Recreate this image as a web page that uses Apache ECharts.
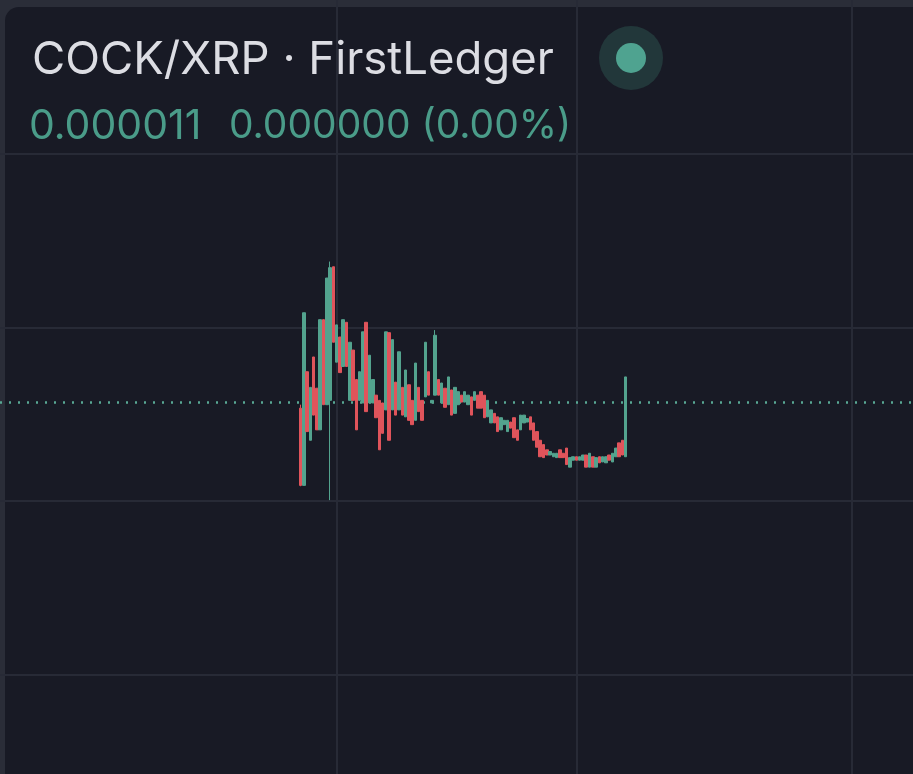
<!DOCTYPE html>
<html>
<head>
<meta charset="utf-8">
<script src="https://cdn.jsdelivr.net/npm/echarts@6/dist/echarts.min.js"></script>
<style>
html,body{margin:0;padding:0;background:#2a2d38;}
#chart{width:913px;height:774px;}
</style>
</head>
<body>
<div id="chart"></div>
<script>
// Prices in units of 1e-6 XRP. Each candle: [open, close, low, high]
const pairTitle = 'COCK/XRP · FirstLedger';
const lastPriceText = '0.000011';
const changeText = '0.000000 (0.00%)';
const lastPrice = 11.14;
const gridLevels = [8, 10, 12, 14];
const leadingEmpty = 91;   // empty periods before first candle
const trailingEmpty = 87;  // empty periods after last candle
const candles = [
  [11.07,10.18,10.17,11.11],[10.18,12.17,10.18,12.17],[11.49,10.80,10.80,11.49],[10.70,11.31,10.70,11.31],
  [11.66,10.99,10.99,11.66],[11.30,10.82,10.82,11.30],[10.82,12.09,10.82,12.09],[12.09,11.11,11.11,12.09],
  [11.11,12.57,11.11,12.57],[11.16,12.69,10.01,12.76],[12.70,11.83,11.83,12.70],[11.60,12.03,11.60,12.03],
  [11.89,11.48,11.48,11.89],[11.55,12.09,11.55,12.09],[12.06,11.55,11.55,12.06],[11.16,11.83,11.16,11.83],
  [11.74,11.16,11.16,11.74],[11.40,10.82,10.82,11.40],[11.16,11.49,11.16,11.49],[11.13,11.95,11.13,11.95],
  [12.06,11.03,11.03,12.06],[11.13,11.68,11.13,11.68],[11.13,11.40,11.13,11.40],[11.22,10.96,10.96,11.22],
  [11.16,10.59,10.59,11.16],[11.13,10.78,10.78,11.13],[11.05,11.95,11.05,11.95],[11.94,10.70,10.70,11.94],
  [11.05,11.86,11.05,11.86],[11.37,10.99,10.99,11.37],[11.05,11.72,11.05,11.72],[11.31,10.99,10.99,11.31],
  [10.97,11.51,10.97,11.51],[11.34,10.93,10.93,11.34],[11.16,10.88,10.88,11.16],[10.93,11.59,10.93,11.59],
  [11.31,11.03,11.03,11.31],[11.16,10.93,10.93,11.16],[11.20,11.83,11.20,11.83],[11.49,11.22,11.22,11.49],
  [11.13,11.16,11.13,11.16],[11.22,11.91,11.22,11.97],[11.40,11.22,11.22,11.40],[11.13,11.36,11.13,11.36],
  [11.30,11.08,11.08,11.30],[11.11,11.43,11.11,11.43],[11.28,10.99,10.99,11.28],[11.01,11.31,11.01,11.31],
  [11.11,11.26,11.11,11.26],[11.22,11.14,11.14,11.22],[11.14,11.26,11.14,11.26],[11.11,11.22,11.11,11.22],
  [11.20,10.99,10.99,11.20],[11.16,11.26,11.16,11.26],[11.22,11.07,11.07,11.22],[11.26,11.07,11.07,11.26],
  [11.22,10.96,10.96,11.22],[10.97,11.16,10.97,11.16],[10.90,11.05,10.90,11.05],[11.01,10.90,10.90,11.01],
  [10.97,10.80,10.80,10.97],[10.82,10.96,10.82,10.96],[10.88,10.93,10.88,10.93],[10.80,10.93,10.80,10.93],
  [10.91,10.84,10.84,10.91],[10.96,10.73,10.73,10.96],[10.82,10.70,10.70,10.82],[10.82,10.99,10.82,10.99],
  [10.90,10.99,10.90,10.99],[10.91,10.95,10.91,10.95],[10.97,10.82,10.82,10.97],[10.90,10.70,10.70,10.90],
  [10.80,10.62,10.62,10.80],[10.70,10.51,10.51,10.70],[10.65,10.50,10.50,10.65],[10.59,10.53,10.53,10.59],
  [10.53,10.57,10.53,10.57],[10.51,10.55,10.51,10.55],[10.50,10.55,10.50,10.55],[10.59,10.50,10.50,10.59],
  [10.55,10.50,10.50,10.55],[10.61,10.42,10.42,10.61],[10.39,10.50,10.39,10.50],[10.47,10.51,10.47,10.51],
  [10.51,10.47,10.47,10.51],[10.47,10.51,10.47,10.51],[10.47,10.53,10.47,10.53],[10.53,10.39,10.39,10.53],
  [10.39,10.55,10.39,10.55],[10.51,10.39,10.39,10.51],[10.39,10.50,10.39,10.50],[10.51,10.44,10.44,10.51],
  [10.45,10.51,10.45,10.51],[10.44,10.51,10.44,10.51],[10.53,10.47,10.47,10.53],[10.45,10.55,10.45,10.55],
  [10.51,10.61,10.51,10.61],[10.67,10.51,10.51,10.67],[10.70,10.53,10.53,10.70],[10.51,11.43,10.51,11.43]
];
const timeGridIdx = [102, 175, 259]; // periods where vertical grid lines fall

const cats = [];
const seriesData = [];
const total = leadingEmpty + candles.length + trailingEmpty;
for (let i = 0; i < total; i++) {
  cats.push('p' + i);
  const j = i - leadingEmpty;
  seriesData.push(j >= 0 && j < candles.length ? candles[j] : '-');
}

const GREEN = '#53a38e', RED = '#e0545b', GRID = '#272a36';
const chart = echarts.init(document.getElementById('chart'), null, {renderer: 'canvas'});
const gridLine = {lineStyle: {color: GRID, width: 2, type: 'solid'}};
const mlData = [];
gridLevels.forEach(v => mlData.push(Object.assign({yAxis: v}, gridLine)));
timeGridIdx.forEach(i => mlData.push(Object.assign({xAxis: cats[i]}, gridLine)));
mlData.push({yAxis: lastPrice, lineStyle: {color: '#58a894', width: 2.5, type: [2, 7]}});

chart.setOption({
  backgroundColor: '#2a2d38',
  animation: false,
  graphic: [
    {type: 'rect', z: -10, shape: {x: 5, y: 7, width: 940, height: 800, r: 14}, style: {fill: '#181a25'}},
    {type: 'text', z: 10, left: 32, top: 37, style: {text: pairTitle, fill: '#dcdde3', font: '45.5px Inter'}},
    {type: 'text', z: 10, left: 29, top: 106, style: {text: lastPriceText, fill: '#4a9c89', font: '41px Inter'}},
    {type: 'text', z: 10, left: 229, top: 107, style: {text: changeText, fill: '#4a9c89', font: '39px Inter'}},
    {type: 'circle', z: 10, shape: {cx: 631, cy: 58, r: 32}, style: {fill: '#22373a'}},
    {type: 'circle', z: 11, shape: {cx: 631, cy: 58, r: 15}, style: {fill: '#4fa390'}}
  ],
  grid: {left: 0, right: 0, top: 0, bottom: 0},
  xAxis: {type: 'category', data: cats, boundaryGap: true, show: false},
  yAxis: {type: 'value', min: 6.853, max: 15.775, show: false, splitLine: {show: false}},
  series: [{
    type: 'candlestick',
    data: seriesData,
    barWidth: 3,
    itemStyle: {color: GREEN, color0: RED, borderColor: GREEN, borderColor0: RED, borderWidth: 1},
    markLine: {silent: true, symbol: ['none', 'none'], label: {show: false}, animation: false, data: mlData, z: 1}
  }]
});
</script>
</body>
</html>
